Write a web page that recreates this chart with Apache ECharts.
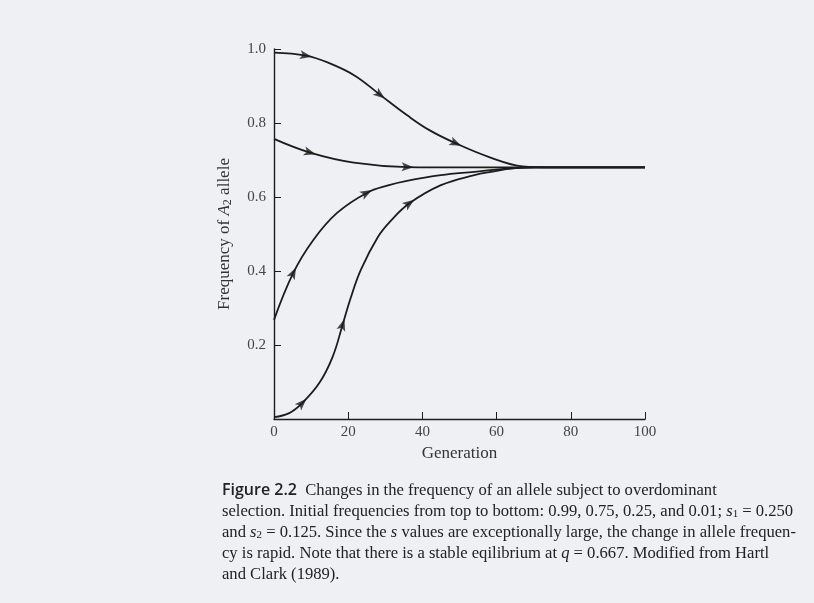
<!DOCTYPE html>
<html>
<head>
<meta charset="utf-8">
<script src="https://cdn.jsdelivr.net/npm/echarts@6/dist/echarts.min.js"></script>
<style>
html, body { margin: 0; padding: 0; background: #eff0f4; }
#main { width: 814px; height: 603px; }
</style>
</head>
<body>
<div id="main"></div>
<script>
// generation vs frequency of A2
var curveA = [[0, 0.99], [8.6, 0.982], [14.6, 0.963], [21.8, 0.928], [28.6, 0.876], [36, 0.82], [42, 0.78], [49, 0.745], [58, 0.708], [67, 0.683], [75, 0.68], [100, 0.68]];
var curveB = [[0, 0.757], [9.7, 0.72], [21.5, 0.693], [36, 0.681], [50, 0.68], [100, 0.68]];
var curveC = [[0, 0.268], [5.2, 0.395], [10.6, 0.484], [17, 0.557], [25, 0.611], [31, 0.632], [35.5, 0.643], [45, 0.659], [54, 0.668], [62, 0.676], [70, 0.68], [100, 0.68]];
var curveD = [[0, 0.005], [4.1, 0.016], [7.6, 0.043], [12.2, 0.097], [15.8, 0.168], [18.5, 0.255], [20.6, 0.325], [23.4, 0.403], [28, 0.492], [31.4, 0.535], [36.5, 0.583], [45, 0.632], [54, 0.659], [58.5, 0.668], [65, 0.678], [72, 0.68], [100, 0.68]];

// which points of each curve carry an arrowhead
var arrowsA = [1, 4, 7];
var arrowsB = [1, 3];
var arrowsC = [1, 4];
var arrowsD = [2, 5, 10];

var xTicks = [0, 20, 40, 60, 80, 100];
var yTicks = [0, 0.2, 0.4, 0.6, 0.8, 1.0];

var captionLines = [
	'{b|Figure 2.2}  Changes in the frequency of an allele subject to overdominant',
	'selection. Initial frequencies from top to bottom: 0.99, 0.75, 0.25, and 0.01; {i|s}{sub|1} = 0.250',
	'and {i|s}{sub|2} = 0.125. Since the {i|s} values are exceptionally large, the change in allele frequen-',
	'cy is rapid. Note that there is a stable eqilibrium at {i|q} = 0.667. Modified from Hartl',
	'and Clark (1989).'
];

var serif = '"Liberation Serif", "DejaVu Serif", serif';
var ink = '#1c1c1c';

var chart = echarts.init(document.getElementById('main'));

var richText = {
	b: { fontFamily: '"Open Sans", "DejaVu Sans", sans-serif', fontWeight: 600, fontSize: 16, fill: '#222' },
	i: { fontFamily: serif, fontStyle: 'italic', fontSize: 16.6, fill: '#222' },
	sub: { fontFamily: serif, fontSize: 11, fill: '#222', verticalAlign: 'bottom', padding: [6, 0, 0, 0] }
};

var graphics = captionLines.map(function (line, k) {
	return {
		type: 'text',
		left: 222,
		top: 482 + k * 21,
		style: {
			text: line,
			font: '16.6px ' + serif,
			fill: '#222',
			rich: richText
		}
	};
});

function lineSeries(id, data) {
	return {
		id: id,
		type: 'line',
		data: data,
		smooth: 0.4,
		symbol: 'none',
		lineStyle: { color: ink, width: 1.8 },
		z: 2
	};
}

chart.setOption({
	backgroundColor: '#eff0f4',
	animation: false,
	grid: { left: 274, right: 169, top: 49, bottom: 184 },
	xAxis: {
		type: 'value',
		min: 0,
		max: 100,
		interval: 20,
		name: 'Generation',
		nameLocation: 'middle',
		nameGap: 24,
		nameTextStyle: { fontFamily: serif, fontSize: 17, color: '#333' },
		axisLine: { lineStyle: { color: ink, width: 1.4 } },
		axisTick: { inside: true, length: 7, lineStyle: { color: ink } },
		axisLabel: {
			fontFamily: serif, fontSize: 15, color: '#444', margin: 6,
			formatter: function (v) { return xTicks.indexOf(v) >= 0 ? String(v) : ''; }
		},
		splitLine: { show: false }
	},
	yAxis: {
		type: 'value',
		min: 0,
		max: 1,
		interval: 0.2,
		name: 'Frequency of {i|A}{sub|2} allele',
		nameLocation: 'middle',
		nameGap: 40,
		nameTextStyle: {
			fontFamily: serif, fontSize: 17, color: '#333',
			rich: {
				i: { fontFamily: serif, fontStyle: 'italic', fontSize: 17, color: '#333' },
				sub: { fontFamily: serif, fontSize: 12, color: '#333', verticalAlign: 'bottom', padding: [6, 0, 0, 0] }
			}
		},
		axisLine: { lineStyle: { color: ink, width: 1.4 } },
		axisTick: { inside: true, length: 7, lineStyle: { color: ink } },
		axisLabel: {
			fontFamily: serif, fontSize: 15, color: '#444', margin: 8,
			formatter: function (v) { return v === 0 ? '' : yTicks[Math.round(v * 5)].toFixed(1); }
		},
		splitLine: { show: false }
	},
	graphic: graphics,
	series: [
		lineSeries('a', curveA),
		lineSeries('b', curveB),
		lineSeries('c', curveC),
		lineSeries('d', curveD)
	]
});

function arrowData(curve, idx) {
	return idx.map(function (i) {
		var a = chart.convertToPixel({ gridIndex: 0 }, curve[i - 1]);
		var b = chart.convertToPixel({ gridIndex: 0 }, curve[i + 1]);
		var ang = Math.atan2(-(b[1] - a[1]), b[0] - a[0]) * 180 / Math.PI;
		return { value: curve[i], symbolRotate: ang - 90 };
	});
}

var arrows = [].concat(
	arrowData(curveA, arrowsA),
	arrowData(curveB, arrowsB),
	arrowData(curveC, arrowsC),
	arrowData(curveD, arrowsD)
);

chart.setOption({
	series: [{
		id: 'arrows',
		type: 'scatter',
		data: arrows,
		symbol: 'path://M5,0 L10,13 L5,10 L0,13 Z',
		symbolSize: [9, 12],
		itemStyle: { color: ink },
		z: 3
	}]
});
</script>
</body>
</html>
